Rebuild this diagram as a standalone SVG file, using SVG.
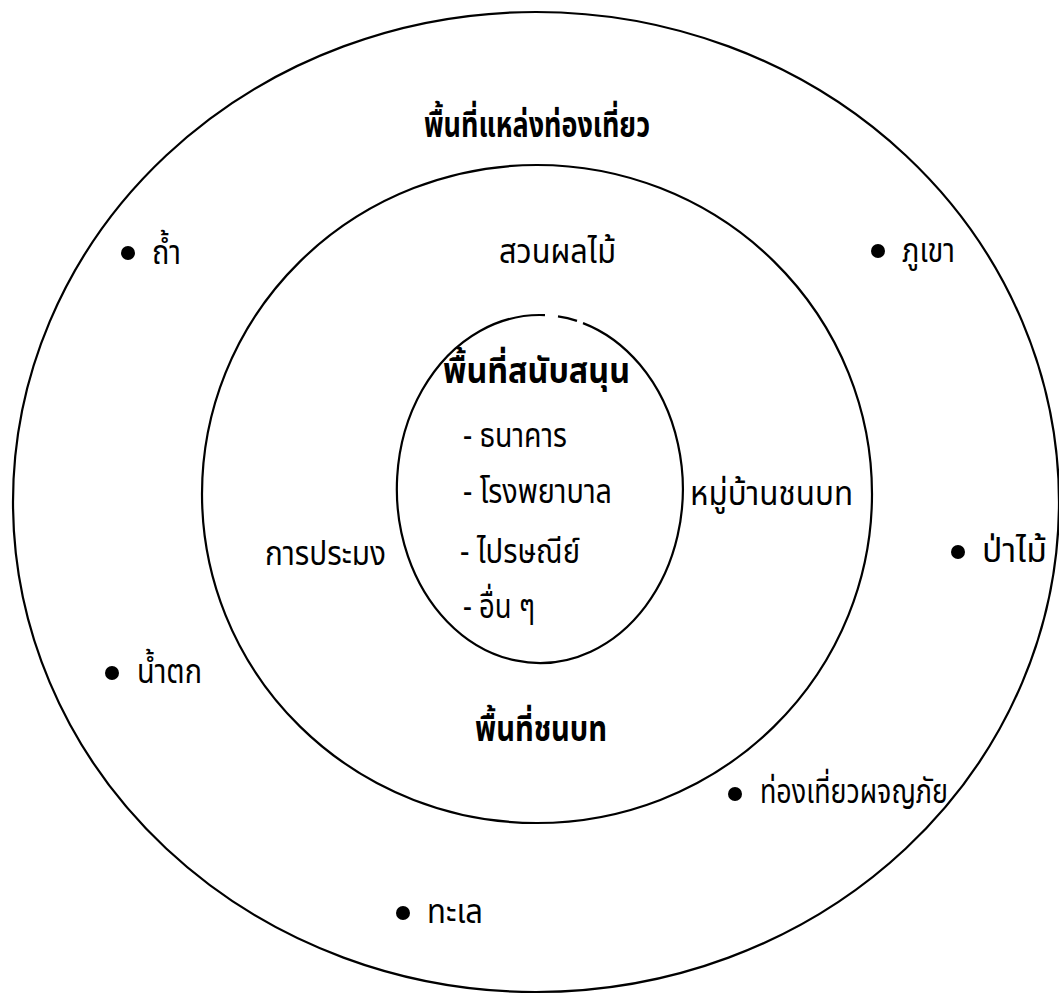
<svg xmlns="http://www.w3.org/2000/svg" width="1059" height="996" viewBox="0 0 1059 996">
<style>
.ring { fill: none; stroke: #000; stroke-width: 2.2; }
.t { font-family: "Noto Sans Thai", "Noto Sans", "DejaVu Sans", sans-serif; font-size: 34px; fill: #000; }
.b { font-weight: bold; font-size: 35px; }
.dot { fill: #000; }
</style>
<rect width="1059" height="996" fill="#fff"/>
<g id="outer-zone">
  <ellipse class="ring" cx="536" cy="502" rx="523" ry="490"/>
  <text class="t b" x="424" y="137" textLength="226" lengthAdjust="spacingAndGlyphs">พื้นที่แหล่งท่องเที่ยว</text>
</g>
<g id="middle-zone">
  <ellipse class="ring" cx="537" cy="494" rx="335" ry="329"/>
  <text class="t b" x="475" y="741" textLength="132" lengthAdjust="spacingAndGlyphs">พื้นที่ชนบท</text>
</g>
<g id="inner-zone">
  <path class="ring" d="M 545 315.1 A 143 174 0 1 0 583 323.1"/>
  <path class="ring" d="M 558 316.4 A 143 174 0 0 1 577 320.9"/>
  <text class="t b" x="443" y="383" textLength="187" lengthAdjust="spacingAndGlyphs">พื้นที่สนับสนุน</text>
</g>
<g id="item-bank"><text class="t" x="463" y="447" textLength="104" lengthAdjust="spacingAndGlyphs">- ธนาคาร</text></g>
<g id="item-hospital"><text class="t" x="463" y="503" textLength="149" lengthAdjust="spacingAndGlyphs">- โรงพยาบาล</text></g>
<g id="item-post"><text class="t" x="460" y="563" textLength="120" lengthAdjust="spacingAndGlyphs">- ไปรษณีย์</text></g>
<g id="item-other"><text class="t" x="463" y="618" textLength="72" lengthAdjust="spacingAndGlyphs">- อื่น ๆ</text></g>
<g id="orchard"><text class="t" x="499" y="263" textLength="117" lengthAdjust="spacingAndGlyphs">สวนผลไม้</text></g>
<g id="fishery"><text class="t" x="265" y="565" textLength="121" lengthAdjust="spacingAndGlyphs">การประมง</text></g>
<g id="village"><text class="t" x="690" y="505" textLength="163" lengthAdjust="spacingAndGlyphs">หมู่บ้านชนบท</text></g>
<g id="cave"><circle class="dot" cx="128" cy="253" r="7"/><text class="t" x="152" y="264" textLength="29" lengthAdjust="spacingAndGlyphs">ถ้ำ</text></g>
<g id="mountain"><circle class="dot" cx="878" cy="251" r="7"/><text class="t" x="902" y="262" textLength="53" lengthAdjust="spacingAndGlyphs">ภูเขา</text></g>
<g id="forest"><circle class="dot" cx="958" cy="552" r="7"/><text class="t" x="982" y="562" textLength="65" lengthAdjust="spacingAndGlyphs">ป่าไม้</text></g>
<g id="waterfall"><circle class="dot" cx="112" cy="673" r="7"/><text class="t" x="137" y="683" textLength="65" lengthAdjust="spacingAndGlyphs">น้ำตก</text></g>
<g id="adventure"><circle class="dot" cx="735" cy="794" r="7"/><text class="t" x="760" y="803" textLength="188" lengthAdjust="spacingAndGlyphs">ท่องเที่ยวผจญภัย</text></g>
<g id="sea"><circle class="dot" cx="403" cy="913" r="7"/><text class="t" x="427" y="923" textLength="56" lengthAdjust="spacingAndGlyphs">ทะเล</text></g>
<g id="connectors"></g>
</svg>
